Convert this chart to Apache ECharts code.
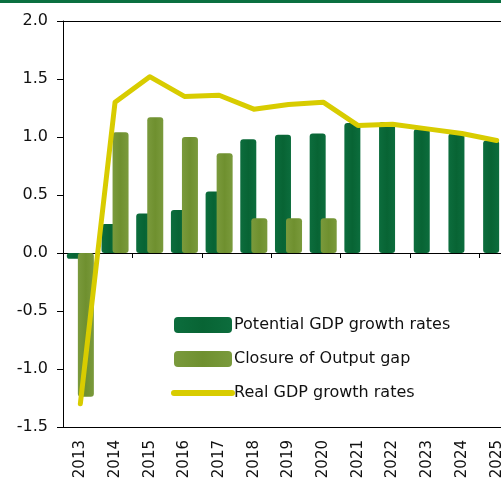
<!DOCTYPE html>
<html>
<head>
<meta charset="utf-8">
<script src="https://cdn.jsdelivr.net/npm/echarts@6/dist/echarts.min.js"></script>
<style>
  html, body { margin: 0; padding: 0; background: #fff; }
  #topbar { position: absolute; left: 0; top: 0; width: 501px; height: 3px; background: #0a7040; }
  #chart { width: 501px; height: 480px; }
</style>
</head>
<body>
<div id="topbar"></div>
<div id="chart"></div>
<script>
let years = ['2013', '2014', '2015', '2016', '2017', '2018', '2019', '2020', '2021', '2022', '2023', '2024', '2025'];
let potential = [-0.05, 0.25, 0.34, 0.37, 0.53, 0.98, 1.02, 1.03, 1.12, 1.13, 1.07, 1.03, 0.97];
let closure = [-1.24, 1.04, 1.17, 1.00, 0.86, 0.30, 0.30, 0.30, null, null, null, null, null];
let realGdp = [-1.30, 1.30, 1.52, 1.35, 1.36, 1.24, 1.28, 1.30, 1.10, 1.11, 1.07, 1.03, 0.97];

let yellow = '#d8cc00';

// slight vertical stripe like the original bars
function barGrad(edge, mid) {
  return new echarts.graphic.LinearGradient(0, 0, 1, 0, [
    { offset: 0, color: edge },
    { offset: 0.5, color: mid },
    { offset: 1, color: edge }
  ])
}

let chart = echarts.init(document.getElementById('chart'))
let option = {
  animation: false,
  textStyle: { fontFamily: 'DejaVu Sans, sans-serif' },
  grid: {
    left: 63, top: 21, width: 451, bottom: 53,
    outerBoundsMode: 'none', containLabel: false
  },
  legend: {
    orient: 'vertical',
    left: 171, top: 317, padding: 0,
    itemWidth: 58, itemHeight: 16, itemGap: 18,
    textStyle: { fontSize: 16, color: '#111', padding: [0, 0, 0, -3] },
    data: [
      { name: 'Potential GDP growth rates', icon: 'roundRect' },
      { name: 'Closure of Output gap', icon: 'roundRect' },
      {
        name: 'Real GDP growth rates',
        itemStyle: { color: 'rgba(0,0,0,0)', borderColor: 'rgba(0,0,0,0)', borderWidth: 0 },
        lineStyle: { width: 6, color: yellow, cap: 'round' }
      }
    ]
  },
  xAxis: [
    {
      type: 'category', data: years,
      axisLine: { onZero: true, lineStyle: { color: '#000', width: 1 } },
      axisTick: { show: true, length: 5, lineStyle: { color: '#000' } },
      axisLabel: { show: false }
    },
    {
      type: 'category', data: years, position: 'bottom',
      axisLine: { onZero: false, lineStyle: { color: '#000' } },
      axisTick: { show: false },
      axisLabel: { rotate: 90, fontSize: 15, color: '#111', margin: 13 }
    },
    {
      type: 'category', data: years, position: 'top',
      axisLine: { onZero: false, lineStyle: { color: '#000' } },
      axisTick: { show: false },
      axisLabel: { show: false }
    }
  ],
  yAxis: {
    type: 'value', min: -1.5, max: 2.0, interval: 0.5,
    splitLine: { show: false },
    axisLine: { show: true, lineStyle: { color: '#000' } },
    axisTick: { show: true, length: 6, lineStyle: { color: '#000' } },
    axisLabel: { fontSize: 16, color: '#111', margin: 15, formatter: v => v.toFixed(1) }
  },
  series: [
    {
      name: 'Potential GDP growth rates',
      type: 'bar',
      data: potential,
      barWidth: 16,
      barGap: '-31%',
      itemStyle: { color: barGrad('#0c6d3d', '#086434'), borderRadius: 3 }
    },
    {
      name: 'Closure of Output gap',
      type: 'bar',
      data: closure,
      barWidth: 16,
      itemStyle: { color: barGrad('#7a9a3c', '#6f902f'), borderRadius: 3 }
    },
    {
      name: 'Real GDP growth rates',
      type: 'line',
      data: realGdp,
      symbol: 'none',
      lineStyle: { color: yellow, width: 5, cap: 'round', join: 'round' },
      itemStyle: { color: yellow }
    }
  ]
}
chart.setOption(option)
</script>
</body>
</html>
